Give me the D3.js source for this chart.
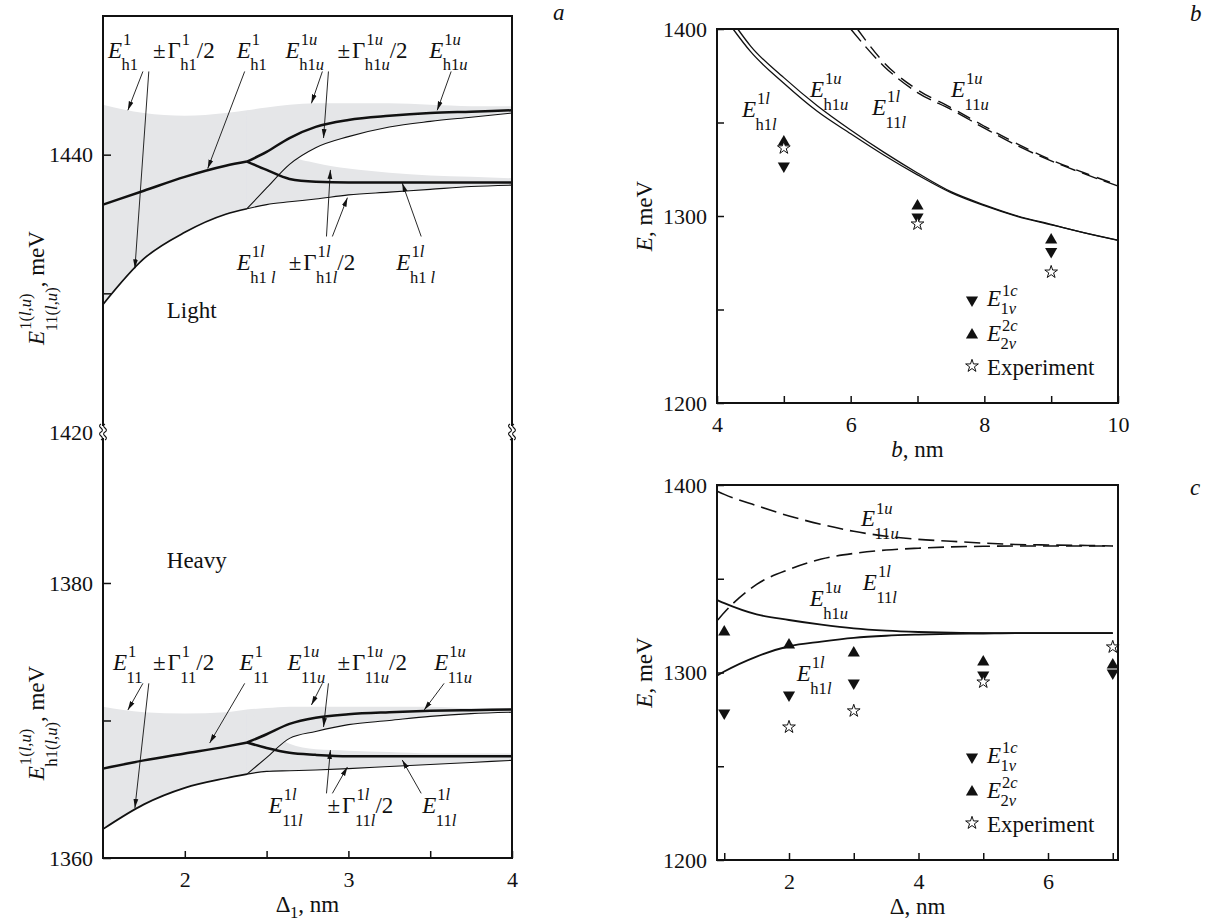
<!DOCTYPE html>
<html>
<head>
<meta charset="utf-8">
<script src="https://cdn.jsdelivr.net/npm/d3@7"></script>
<style>
  body { margin: 0; background: #fff; }
  svg text { font-family: "Liberation Serif", "Times New Roman", serif; fill: #111; }
</style>
</head>
<body>
<svg id="fig" width="1218" height="921"></svg>
<script>
// ---------- data ----------
// panel a: anticrossing, x = Delta_1 (nm)
var aX1 = [1.5, 1.75, 2.0, 2.25, 2.38];
var aX2 = [2.38, 2.5, 2.64, 2.8, 3.0, 3.25, 3.5, 3.75, 4.0];

// light holes (meV)
var lightE1   = [1436.4, 1437.4, 1438.4, 1439.2, 1439.5];
var lightLow1 = [1429.2, 1432.5, 1434.4, 1435.7, 1436.1];
var lightTop1 = [1443.6, 1443.0, 1442.8, 1443.0, 1443.2];
var lightEu   = [1439.5, 1440.2, 1441.2, 1442.0, 1442.5, 1442.8, 1443.0, 1443.1, 1443.2];
var lightEl   = [1439.5, 1438.9, 1438.25, 1438.05, 1438.0, 1438.0, 1438.0, 1438.0, 1438.0];
var lightLowU = [1436.1, 1437.6, 1439.3, 1440.5, 1441.3, 1442.0, 1442.4, 1442.7, 1443.0];
var lightTopU = [1443.2, 1443.4, 1443.6, 1443.7, 1443.7, 1443.7, 1443.6, 1443.5, 1443.5];
var lightLowL = [1436.1, 1436.4, 1436.6, 1436.8, 1437.1, 1437.3, 1437.5, 1437.7, 1437.8];
var lightTopL = [1443.2, 1441.6, 1440.0, 1439.4, 1439.0, 1438.7, 1438.5, 1438.4, 1438.3];

// heavy holes (meV)
var heavyE1   = [1366.5, 1367.1, 1367.6, 1368.1, 1368.4];
var heavyLow1 = [1362.1, 1363.9, 1365.1, 1365.8, 1366.1];
var heavyTop1 = [1371.0, 1370.6, 1370.5, 1370.6, 1370.8];
var heavyEu   = [1368.4, 1369.0, 1369.75, 1370.2, 1370.45, 1370.6, 1370.7, 1370.75, 1370.8];
var heavyEl   = [1368.4, 1368.0, 1367.65, 1367.5, 1367.4, 1367.4, 1367.4, 1367.4, 1367.4];
var heavyLowU = [1366.1, 1367.3, 1368.7, 1369.2, 1369.7, 1370.0, 1370.3, 1370.5, 1370.6];
var heavyTopU = [1370.8, 1370.9, 1371.0, 1371.0, 1371.0, 1371.0, 1371.0, 1370.9, 1370.9];
var heavyLowL = [1366.1, 1366.3, 1366.35, 1366.4, 1366.5, 1366.65, 1366.8, 1366.95, 1367.1];
var heavyTopL = [1370.8, 1369.5, 1368.3, 1367.9, 1367.8, 1367.7, 1367.6, 1367.6, 1367.6];

// arrows of panel a: [x1, E1, x2, E2]
var lightArrows = [
  [1.744, 1446.0, 1.652, 1443.2], [1.780, 1446.0, 1.695, 1431.8],
  [2.366, 1446.0, 2.140, 1439.0], [2.841, 1446.0, 2.774, 1443.7],
  [2.878, 1446.0, 2.848, 1441.2], [3.628, 1446.0, 3.543, 1443.2],
  [2.866, 1434.1, 2.890, 1438.9], [2.902, 1434.1, 2.994, 1436.9],
  [3.445, 1434.1, 3.329, 1437.95]
];
var heavyArrows = [
  [1.744, 1372.7, 1.652, 1370.76], [1.780, 1372.7, 1.695, 1363.64],
  [2.366, 1372.7, 2.152, 1368.36], [2.841, 1372.7, 2.774, 1371.13],
  [2.878, 1372.7, 2.848, 1369.53], [3.585, 1372.7, 3.463, 1370.76],
  [2.866, 1364.7, 2.890, 1367.85], [2.902, 1364.7, 2.994, 1366.62],
  [3.445, 1364.7, 3.329, 1367.13]
];

// panel b: x = b (nm)
var bH1lX = [4.24, 4.5, 5, 5.5, 6, 6.5, 7, 7.5, 8, 8.5, 9, 9.5, 10];
var bH1l  = [1400, 1388, 1371, 1356, 1344, 1332.5, 1322, 1312.5, 1305.5, 1299.7, 1295.3, 1291, 1287];
var bH1uX = [4.31, 4.5, 5, 5.5, 6, 6.5, 7, 7.5, 8, 8.5, 9, 9.5, 10];
var bH1u  = [1400, 1391, 1374, 1359, 1346, 1334, 1323, 1313, 1306, 1300, 1295.5, 1291, 1287];
var b11lX = [6.0, 6.5, 7, 7.5, 8, 8.5, 9, 9.5, 10];
var b11l  = [1400, 1380, 1366, 1357, 1347, 1337.5, 1329.5, 1322.5, 1316];
var b11uX = [6.1, 6.5, 7, 7.5, 8, 8.5, 9, 9.5, 10];
var b11u  = [1400, 1382, 1367.5, 1358, 1348, 1338.5, 1330, 1323, 1316.5];
var bPts  = [5, 7, 9];
var bDown = [1326.7, 1299.5, 1281.0];
var bUp   = [1339.6, 1305.3, 1287.2];
var bExp  = [1336.4, 1295.7, 1270.0];

// panel c: x = Delta (nm)
var cX    = [0.9, 1, 1.5, 2, 2.5, 3, 3.5, 4, 4.5, 5, 5.5, 6, 6.5, 7];
var c11u  = [1396.5, 1395, 1389, 1383.5, 1379, 1375.3, 1372.7, 1371, 1370, 1369, 1368.3, 1368, 1367.8, 1367.5];
var c11l  = [1328, 1332, 1347, 1355, 1360.5, 1363.5, 1365.3, 1366.3, 1367, 1367.3, 1367.5, 1367.5, 1367.5, 1367.5];
var cH1u  = [1338.5, 1337, 1331, 1328, 1325.5, 1323.5, 1322.3, 1321.6, 1321.2, 1321, 1321, 1321, 1321, 1321];
var cH1l  = [1298.5, 1300.5, 1308.5, 1314, 1316.5, 1318.5, 1319.6, 1320.2, 1320.6, 1320.8, 1321, 1321, 1321, 1321];
var cPts  = [1, 2, 3, 5, 7];
var cDown = [1278.4, 1288.0, 1294.4, 1298.7, 1299.7];
var cUp   = [1321.6, 1314.7, 1310.4, 1305.6, 1304.0];
var cExp  = [null, 1270.9, 1279.5, 1294.9, 1313.6];

// ---------- setup ----------
var FS = 22, LF = 23;
var svg = d3.select("#fig");
var GRAY = "#e5e6e8";

svg.append("defs").append("marker")
  .attr("id", "arr").attr("markerUnits", "userSpaceOnUse")
  .attr("markerWidth", 9).attr("markerHeight", 6)
  .attr("refX", 9).attr("refY", 3).attr("orient", "auto")
  .append("path").attr("d", "M0,0.6 L9,3 L0,5.4 Z").attr("fill", "#111");

// scales
var xA = d3.scaleLinear().domain([1.5, 4]).range([103, 512]);
var yLight = d3.scaleLinear().domain([1420, 1450]).range([432, 16]);
var yHeavy = d3.scaleLinear().domain([1360, 1390.98]).range([858, 432]);
var xB = d3.scaleLinear().domain([4, 10]).range([717, 1118]);
var yB = d3.scaleLinear().domain([1200, 1400]).range([403, 29]);
var xC = d3.scaleLinear().domain([0.888, 7.081]).range([717, 1118]);
var yC = d3.scaleLinear().domain([1200, 1400]).range([860, 485]);

// text with italic letters for math
var ITAL = /[ulcvEb]/;
function run(g, x, y, str, fs, math) {
  var t = g.append("text").attr("x", x).attr("y", y).attr("font-size", fs);
  var buf = "", it = null;
  function flush() {
    if (buf) t.append("tspan").attr("font-style", it ? "italic" : "normal").text(buf);
    buf = "";
  }
  for (var ch of str) {
    var i = math && ITAL.test(ch);
    if (i !== it) { flush(); it = i; }
    buf += ch;
  }
  flush();
  return t.node().getComputedTextLength();
}

// tokens: string, number (gap) or [base, sup, sub]
function mathText(g, x, y, tokens, fs, tight) {
  var cx = x;
  var up = tight ? 0.42 : 0.55, down = tight ? 0.36 : 0.56;
  tokens.forEach(function (tk) {
    if (typeof tk === "number") { cx += tk; return; }
    if (typeof tk === "string") { cx += run(g, cx, y, tk, fs, true); return; }
    var base = tk[0], sup = tk[1], sub = tk[2];
    cx += run(g, cx, y, base, fs, true);
    var ss = fs * 0.72, both = sup && sub;
    var ws = sup ? run(g, cx + 1, y - fs * (both ? up : 0.45), sup, ss, true) + 1 : 0;
    var wb = sub ? run(g, cx - 0.5, y + fs * (both ? down : 0.28), sub, ss, true) - 0.5 : 0;
    cx += Math.max(ws, wb);
  });
  return cx - x;
}

function styleAxis(g) {
  g.select(".domain").remove();
  g.attr("font-size", FS);
  g.selectAll(".tick line").attr("stroke", "#111").attr("stroke-width", 1.5);
}

// ---------- panel a ----------
var gA = svg.append("g");

function drawHalf(y, E1, low1, top1, Eu, El, lowU, topU, lowL, topL, arrows) {
  var band = function (xs, lo, hi) {
    return d3.area()
      .x(function (d) { return xA(d); })
      .y0(function (d, i) { return y(lo[i]); })
      .y1(function (d, i) { return y(hi[i]); })
      .curve(d3.curveMonotoneX)(xs);
  };
  var line = function (xs, ys) {
    return d3.line()
      .x(function (d) { return xA(d); })
      .y(function (d, i) { return y(ys[i]); })
      .curve(d3.curveMonotoneX)(xs);
  };
  [[aX1, low1, top1], [aX2, lowU, topU], [aX2, lowL, topL]].forEach(function (b) {
    gA.append("path").attr("d", band(b[0], b[1], b[2])).attr("fill", GRAY);
  });
  gA.append("path").attr("d", line(aX1, low1)).attr("fill", "none").attr("stroke", "#111").attr("stroke-width", 1.7);
  gA.append("path").attr("d", line(aX2, lowL)).attr("fill", "none").attr("stroke", "#111").attr("stroke-width", 1.1);
  gA.append("path").attr("d", line(aX2, lowU)).attr("fill", "none").attr("stroke", "#111").attr("stroke-width", 1.1);
  [[aX1, E1], [aX2, Eu], [aX2, El]].forEach(function (l) {
    gA.append("path").attr("d", line(l[0], l[1])).attr("fill", "none")
      .attr("stroke", "#111").attr("stroke-width", 2.5);
  });
  arrows.forEach(function (a) {
    gA.append("line")
      .attr("x1", xA(a[0])).attr("y1", y(a[1]))
      .attr("x2", xA(a[2])).attr("y2", y(a[3]))
      .attr("stroke", "#111").attr("stroke-width", 0.9)
      .attr("marker-end", "url(#arr)");
  });
}

drawHalf(yLight, lightE1, lightLow1, lightTop1, lightEu, lightEl, lightLowU, lightTopU, lightLowL, lightTopL, lightArrows);
drawHalf(yHeavy, heavyE1, heavyLow1, heavyTop1, heavyEu, heavyEl, heavyLowU, heavyTopU, heavyLowL, heavyTopL, heavyArrows);

// labels, light
var yt = yLight(1447.0), yl = yLight(1431.7);
mathText(gA, xA(1.53), yt, [["E", "1", "h1"]], LF);
mathText(gA, xA(1.805), yt, ["±", 2, ["Γ", "1", "h1"], "/2"], LF);
mathText(gA, xA(2.317), yt, [["E", "1", "h1"]], LF);
mathText(gA, xA(2.616), yt, [["E", "1u", "h1u"]], LF);
mathText(gA, xA(2.933), yt, ["±", 2, ["Γ", "1u", "h1u"], "/2"], LF);
mathText(gA, xA(3.494), yt, [["E", "1u", "h1u"]], LF);
mathText(gA, xA(2.317), yl, [["E", "1l", "h1 l"]], LF);
mathText(gA, xA(2.635), yl, ["±", 2, ["Γ", "1l", "h1l"], "/2"], LF);
mathText(gA, xA(3.293), yl, [["E", "1l", "h1 l"]], LF);
// labels, heavy
var ht = yHeavy(1373.67), hl = yHeavy(1363.27);
mathText(gA, xA(1.561), ht, [["E", "1", "11"]], LF);
mathText(gA, xA(1.805), ht, ["±", 2, ["Γ", "1", "11"], "/2"], LF);
mathText(gA, xA(2.335), ht, [["E", "1", "11"]], LF);
mathText(gA, xA(2.628), ht, [["E", "1u", "11u"]], LF);
mathText(gA, xA(2.933), ht, ["±", 2, ["Γ", "1u", "11u"], "/2"], LF);
mathText(gA, xA(3.524), ht, [["E", "1u", "11u"]], LF);
mathText(gA, xA(2.512), hl, [["E", "1l", "11l"]], LF);
mathText(gA, xA(2.872), hl, ["±", 2, ["Γ", "1l", "11l"], "/2"], LF);
mathText(gA, xA(3.451), hl, [["E", "1l", "11l"]], LF);

gA.append("text").attr("x", xA(1.89)).attr("y", yLight(1428.2)).attr("font-size", LF).text("Light");
gA.append("text").attr("x", xA(1.89)).attr("y", yHeavy(1381.1)).attr("font-size", LF).text("Heavy");

// axes a
gA.append("g").attr("transform", "translate(103,0)")
  .call(d3.axisLeft(yLight).tickValues([1420, 1430, 1440]).tickSize(-8).tickPadding(10)
    .tickFormat(function (d) { return d === 1430 ? "" : d; }))
  .call(styleAxis)
  .call(function (g) { g.selectAll(".tick").filter(function (d) { return d === 1420; }).select("line").remove(); });
gA.append("g").attr("transform", "translate(103,0)")
  .call(d3.axisLeft(yHeavy).tickValues([1360, 1370, 1380]).tickSize(-8).tickPadding(10)
    .tickFormat(function (d) { return d === 1370 ? "" : d; }))
  .call(styleAxis);
gA.append("g").attr("transform", "translate(0,858)")
  .call(d3.axisBottom(xA).tickValues([2, 2.5, 3, 3.5, 4]).tickSize(-7).tickPadding(13)
    .tickFormat(function (d) { return d % 1 ? "" : d; }))
  .call(styleAxis);

gA.append("rect").attr("x", 103).attr("y", 16).attr("width", 409).attr("height", 842)
  .attr("fill", "none").attr("stroke", "#111").attr("stroke-width", 2);

// axis breaks
[103, 512].forEach(function (x) {
  gA.append("rect").attr("x", x - 3).attr("y", 426).attr("width", 6).attr("height", 12).attr("fill", "#fff");
  [-2, 2].forEach(function (o) {
    gA.append("path")
      .attr("d", "M" + (x + o) + ",424 c-5,3 5,5 0,8 c-5,3 5,5 0,8")
      .attr("fill", "none").attr("stroke", "#111").attr("stroke-width", 1.1);
  });
});

gA.append("text").attr("x", 553).attr("y", 20).attr("font-size", LF).attr("font-style", "italic").text("a");

// x label a
var xl = gA.append("g");
var w = mathText(xl, 0, 912, [["Δ", null, "1"], ", nm"], LF);
xl.attr("transform", "translate(" + (307.5 - w / 2) + ",0)");

// rotated y labels
function yLabel(cx, cy, tokens) {
  var outer = svg.append("g").attr("transform", "translate(" + cx + "," + cy + ") rotate(-90)");
  var inner = outer.append("g");
  var wd = mathText(inner, 0, 0, tokens, LF);
  inner.attr("transform", "translate(" + (-wd / 2) + ",0)");
}
yLabel(44, 288, [["E", "1(l,u)", "11(l,u)"], ", meV"]);
yLabel(44, 723, [["E", "1(l,u)", "h1(l,u)"], ", meV"]);

// ---------- panels b, c ----------
function markers(g, xs, ys, sx, sy, type) {
  var sym = type === "star" ? d3.symbol().type(d3.symbolStar).size(50)
                            : d3.symbol().type(d3.symbolTriangle).size(64);
  xs.forEach(function (x, i) {
    if (ys[i] == null) return;
    var p = g.append("path").attr("d", sym())
      .attr("transform", "translate(" + sx(x) + "," + sy(ys[i]) + ")" + (type === "down" ? " rotate(180)" : ""));
    if (type === "star") p.attr("fill", "#fff").attr("stroke", "#111").attr("stroke-width", 1);
    else p.attr("fill", "#111");
  });
}

function curve(g, xs, ys, sx, sy, width, dash) {
  g.append("path")
    .attr("d", d3.line().x(function (d) { return sx(d); }).y(function (d, i) { return sy(ys[i]); })
      .curve(d3.curveMonotoneX)(xs))
    .attr("fill", "none").attr("stroke", "#111").attr("stroke-width", width)
    .attr("stroke-dasharray", dash || null);
}

function legend(g, x, bottom) {
  var sym = d3.symbol().type(d3.symbolTriangle).size(64);
  g.append("path").attr("d", sym()).attr("fill", "#111")
    .attr("transform", "translate(" + x + "," + (bottom - 103) + ") rotate(180)");
  mathText(g, x + 15, bottom - 97, [["E", "1c", "1v"]], LF, true);
  g.append("path").attr("d", sym()).attr("fill", "#111")
    .attr("transform", "translate(" + x + "," + (bottom - 68) + ")");
  mathText(g, x + 15, bottom - 62, [["E", "2c", "2v"]], LF, true);
  g.append("path").attr("d", d3.symbol().type(d3.symbolStar).size(50)())
    .attr("fill", "#fff").attr("stroke", "#111").attr("stroke-width", 1)
    .attr("transform", "translate(" + x + "," + (bottom - 37) + ")");
  run(g, x + 15, bottom - 28, "Experiment", LF, false);
}

function frame(g, sx, sy, xt, xlab, yt, ylab, xText, letter, letterY) {
  g.append("g").attr("transform", "translate(" + sx.range()[0] + ",0)")
    .call(d3.axisLeft(sy).tickValues(yt).tickSize(-7).tickPadding(10)
      .tickFormat(function (d) { return ylab.indexOf(d) >= 0 ? d : ""; }))
    .call(styleAxis);
  g.append("g").attr("transform", "translate(0," + sy.range()[0] + ")")
    .call(d3.axisBottom(sx).tickValues(xt).tickSize(-7).tickPadding(13)
      .tickFormat(function (d) { return xlab.indexOf(d) >= 0 ? d : ""; }))
    .call(styleAxis);
  g.append("rect").attr("x", sx.range()[0]).attr("y", sy.range()[1])
    .attr("width", sx.range()[1] - sx.range()[0]).attr("height", sy.range()[0] - sy.range()[1])
    .attr("fill", "none").attr("stroke", "#111").attr("stroke-width", 2);
  var cx = (sx.range()[0] + sx.range()[1]) / 2;
  var xg = g.append("g");
  var wx = mathText(xg, 0, sy.range()[0] + 54, xText, LF);
  xg.attr("transform", "translate(" + (cx - wx / 2) + ",0)");
  yLabel(652, (sy.range()[0] + sy.range()[1]) / 2, ["E", ", meV"]);
  g.append("text").attr("x", 1190).attr("y", letterY)
    .attr("font-size", LF).attr("font-style", "italic").text(letter);
}

// panel b
var gB = svg.append("g");
curve(gB, bH1lX, bH1l, xB, yB, 1.3);
curve(gB, bH1uX, bH1u, xB, yB, 1.3);
curve(gB, b11lX, b11l, xB, yB, 1.4, "16,7");
curve(gB, b11uX, b11u, xB, yB, 1.4, "14,8");
markers(gB, bPts, bDown, xB, yB, "down");
markers(gB, bPts, bUp, xB, yB, "up");
markers(gB, bPts, bExp, xB, yB, "star");
mathText(gB, xB(4.374), yB(1352.9), [["E", "1l", "h1l"]], LF);
mathText(gB, xB(5.39), yB(1363.6), [["E", "1u", "h1u"]], LF);
mathText(gB, xB(6.32), yB(1354.0), [["E", "1l", "11l"]], LF);
mathText(gB, xB(7.50), yB(1363.6), [["E", "1u", "11u"]], LF);
legend(gB, 972, 403);
frame(gB, xB, yB, [4, 5, 6, 7, 8, 9, 10], [4, 6, 8, 10], [1200, 1250, 1300, 1350, 1400], [1200, 1300, 1400],
  ["b", ", nm"], "b", 21);

// panel c
var gC = svg.append("g");
curve(gC, cX, cH1u, xC, yC, 1.8);
curve(gC, cX, cH1l, xC, yC, 1.8);
curve(gC, cX, c11u, xC, yC, 1.6, "16,7");
curve(gC, cX, c11l, xC, yC, 1.6, "16,7");
markers(gC, cPts, cDown, xC, yC, "down");
markers(gC, cPts, cUp, xC, yC, "up");
markers(gC, cPts, cExp, xC, yC, "star");
mathText(gC, xC(3.11), yC(1378.0), [["E", "1u", "11u"]], LF);
mathText(gC, xC(3.14), yC(1344.0), [["E", "1l", "11l"]], LF);
mathText(gC, xC(2.32), yC(1335.4), [["E", "1u", "h1u"]], LF);
mathText(gC, xC(2.12), yC(1295.5), [["E", "1l", "h1l"]], LF);
legend(gC, 972, 860);
frame(gC, xC, yC, [1, 2, 3, 4, 5, 6, 7], [2, 4, 6], [1200, 1250, 1300, 1350, 1400], [1200, 1300, 1400],
  ["Δ", ", nm"], "c", 495);
</script>
</body>
</html>
